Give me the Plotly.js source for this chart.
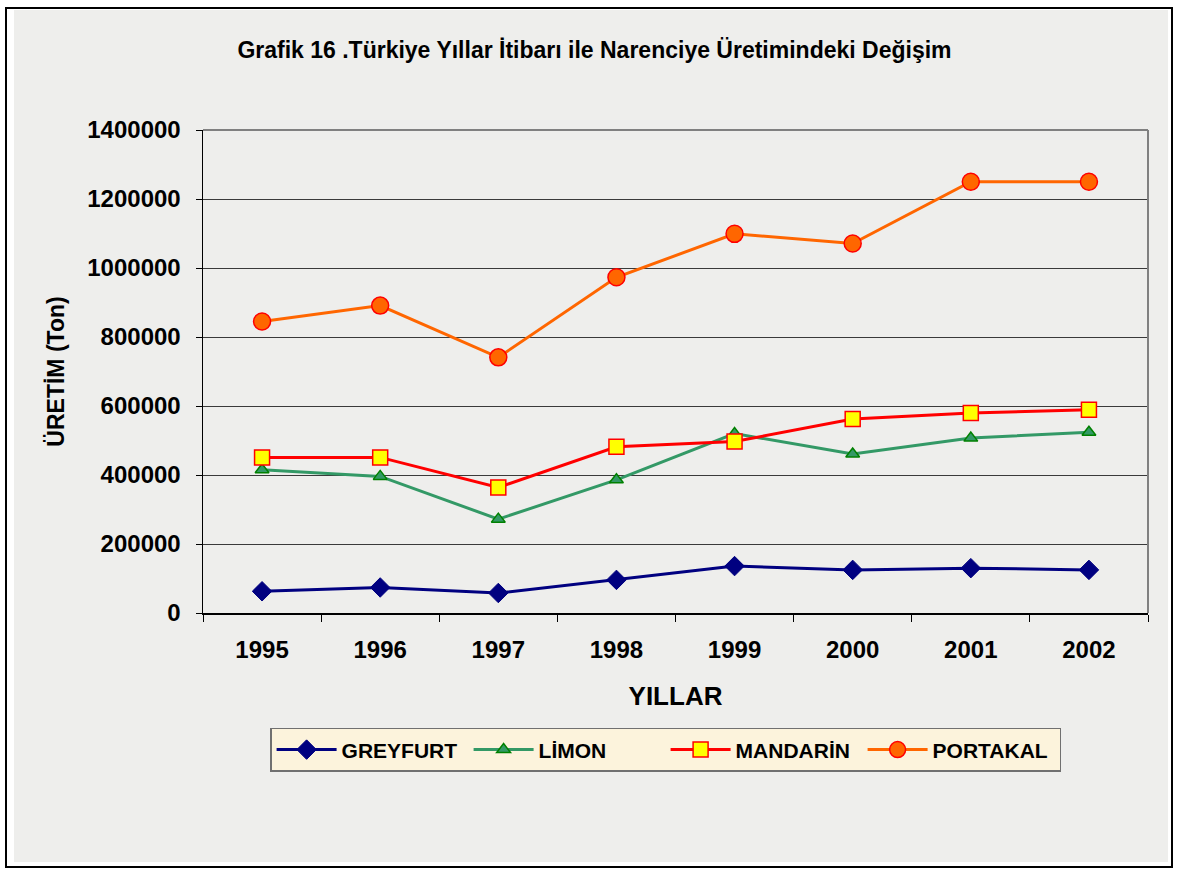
<!DOCTYPE html>
<html>
<head>
<meta charset="utf-8">
<script src="https://cdn.plot.ly/plotly-3.0.1.min.js"></script>
<style>
  html, body { margin: 0; padding: 0; background: #ffffff; width: 1180px; height: 874px; overflow: hidden; }
  #frame { position: absolute; left: 5px; top: 7px; width: 1164px; height: 857px; border: 2px solid #000; }
  #chart { position: absolute; left: 14px; top: 10px; width: 1154px; height: 852px; }
</style>
</head>
<body>
<div id="frame"></div>
<div id="chart"></div>
<script>
const years = ['1995', '1996', '1997', '1998', '1999', '2000', '2001', '2002'];
const greyfurt = [63000, 74000, 58000, 96000, 136000, 125000, 130000, 125000];
const limon    = [415000, 396000, 272000, 386000, 520000, 461000, 507000, 524000];
const mandarin = [451000, 451000, 364000, 482000, 497000, 562000, 580000, 589000];
const portakal = [845000, 891000, 741000, 973000, 1099000, 1071000, 1250000, 1250000];
const seriesNames = ['GREYFURT', 'LİMON', 'MANDARİN', 'PORTAKAL'];

const FONT = 'Liberation Sans, Arial, sans-serif';
const BG = '#eeeeec';

const traces = [
  { x: years, y: greyfurt, name: seriesNames[0], type: 'scatter', mode: 'lines+markers',
    line: { color: '#000080', width: 3 },
    marker: { symbol: 'diamond', size: 15, color: '#000080', line: { color: '#000080', width: 1 } } },
  { x: years, y: limon, name: seriesNames[1], type: 'scatter', mode: 'lines+markers',
    line: { color: '#339966', width: 3 },
    marker: { symbol: 'triangle-up', size: 12, color: '#339966', line: { color: '#008000', width: 1.5 } } },
  { x: years, y: mandarin, name: seriesNames[2], type: 'scatter', mode: 'lines+markers',
    line: { color: '#ff0000', width: 3 },
    marker: { symbol: 'square', size: 15, color: '#ffff00', line: { color: '#ff0000', width: 1.5 } } },
  { x: years, y: portakal, name: seriesNames[3], type: 'scatter', mode: 'lines+markers',
    line: { color: '#ff6600', width: 3 },
    marker: { symbol: 'circle', size: 17, color: '#ff6600', line: { color: '#ff0000', width: 1.5 } } }
];

const layout = {
  width: 1154, height: 852,
  margin: { l: 189, r: 20, t: 120, b: 249 },
  paper_bgcolor: BG,
  plot_bgcolor: BG,
  font: { family: FONT, color: '#000' },
  showlegend: true,
  title: {
    text: '<b>Grafik 16 .Türkiye Yıllar İtibarı ile Narenciye Üretimindeki Değişim</b>',
    font: { family: FONT, size: 23, color: '#000' },
    xref: 'container', x: 0.503, xanchor: 'center',
    yref: 'container', y: 0.953, yanchor: 'middle'
  },
  xaxis: {
    type: 'category',
    range: [-0.5, 7.5],
    tickson: 'boundaries',
    ticks: 'outside', ticklen: 7, tickcolor: '#000', tickwidth: 1,
    ticklabelstandoff: 15,
    showline: true, linecolor: '#000', linewidth: 1.5,
    showgrid: false, zeroline: false,
    tickfont: { family: FONT, size: 24, color: '#000', weight: 'bold' },
    title: { text: '<b>YILLAR</b>', font: { family: FONT, size: 26, color: '#000' }, standoff: 24 }
  },
  yaxis: {
    range: [0, 1400000],
    dtick: 200000,
    tickformat: 'd',
    ticks: 'outside', ticklen: 6, tickcolor: '#000', tickwidth: 1,
    ticklabelstandoff: 10,
    showline: true, linecolor: '#000', linewidth: 1.5,
    showgrid: true, gridcolor: '#3a3a3a', gridwidth: 1,
    zeroline: false,
    tickfont: { family: FONT, size: 24, color: '#000', weight: 'bold' },
    title: { text: '<b>ÜRETİM (Ton)</b>', font: { family: FONT, size: 23, color: '#000' }, standoff: 16 }
  },
  legend: {
    orientation: 'h',
    x: 0.071, xanchor: 'left',
    y: -0.238, yanchor: 'top',
    bgcolor: '#fcf3dc',
    bordercolor: '#707070', borderwidth: 1.5,
    font: { family: FONT, size: 21, color: '#000', weight: 'bold' },
    itemwidth: 60,
    entrywidthmode: 'pixels',
    entrywidth: 122
  },
  shapes: [
    { type: 'line', xref: 'paper', yref: 'paper', x0: 0, x1: 1, y0: 1, y1: 1, line: { color: '#808080', width: 2 } },
    { type: 'line', xref: 'paper', yref: 'paper', x0: 1, x1: 1, y0: 0, y1: 1, line: { color: '#808080', width: 2 } }
  ]
};

Plotly.newPlot('chart', traces, layout, { displayModeBar: false, staticPlot: true });
</script>
</body>
</html>
